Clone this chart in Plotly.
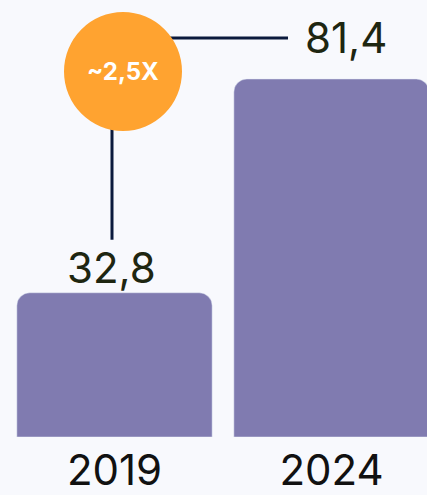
import plotly.graph_objects as go

years = ["2019", "2024"]
values = [32.8, 81.4]
value_labels = ["32,8", "81,4"]
growth_label = "~2,5X"

BG = "#f8f9fd"
BAR = "#807bb0"
ORANGE = "#ffa330"
NAVY = "#0b1a3d"
DARK = "#1e2611"
FONT = "Inter"

fig = go.Figure()
fig.add_trace(go.Bar(x=years, y=values, marker_color=BAR, width=0.9,
                     hoverinfo="skip"))

# value labels above the bars
fig.add_annotation(x=0, y=values[0], text=value_labels[0], showarrow=False,
                   xshift=-3.5, yshift=25, yanchor="middle",
                   font=dict(family=FONT, size=42, color=DARK))
fig.add_annotation(x=1, y=values[1], text=value_labels[1], showarrow=False,
                   xshift=14.5, yshift=41, yanchor="middle",
                   font=dict(family=FONT, size=42, color=DARK))

# connector lines (drawn first so the circle sits on top)
fig.add_shape(type="line", xref="x", yref="y", xsizemode="pixel", ysizemode="pixel",
              xanchor=0, yanchor=values[1], x0=8.5, x1=173.5, y0=41, y1=41,
              line=dict(color=NAVY, width=3))
fig.add_shape(type="line", xref="x", yref="y", xsizemode="pixel", ysizemode="pixel",
              xanchor=0, yanchor=values[0], x0=-2.5, x1=-2.5, y0=53, y1=173,
              line=dict(color=NAVY, width=3))
fig.add_shape(type="circle", xref="x", yref="y", xsizemode="pixel", ysizemode="pixel",
              xanchor=0, yanchor=values[1], x0=-50.5, x1=67.5, y0=-52, y1=67,
              fillcolor=ORANGE, line=dict(width=0))
fig.add_annotation(x=0, y=values[1], text="<b>" + growth_label + "</b>",
                   showarrow=False, xshift=8.5, yshift=7, yanchor="middle",
                   font=dict(family=FONT, size=24, color="white"))

fig.update_layout(
    width=427, height=495,
    margin=dict(l=0, r=0, t=0, b=58),
    paper_bgcolor=BG, plot_bgcolor=BG,
    barcornerradius=13,
    showlegend=False,
    xaxis=dict(type="category", range=[-0.5276, 1.44], showgrid=False, zeroline=False,
               showline=False, ticks="", ticklabelstandoff=5, automargin=False,
               tickfont=dict(family=FONT, size=42, color="#111111")),
    yaxis=dict(range=[0, 99.36], visible=False, automargin=False),
)

fig.write_html("out.html", config={"displayModeBar": False},
               post_script="document.body.style.margin='0';")
